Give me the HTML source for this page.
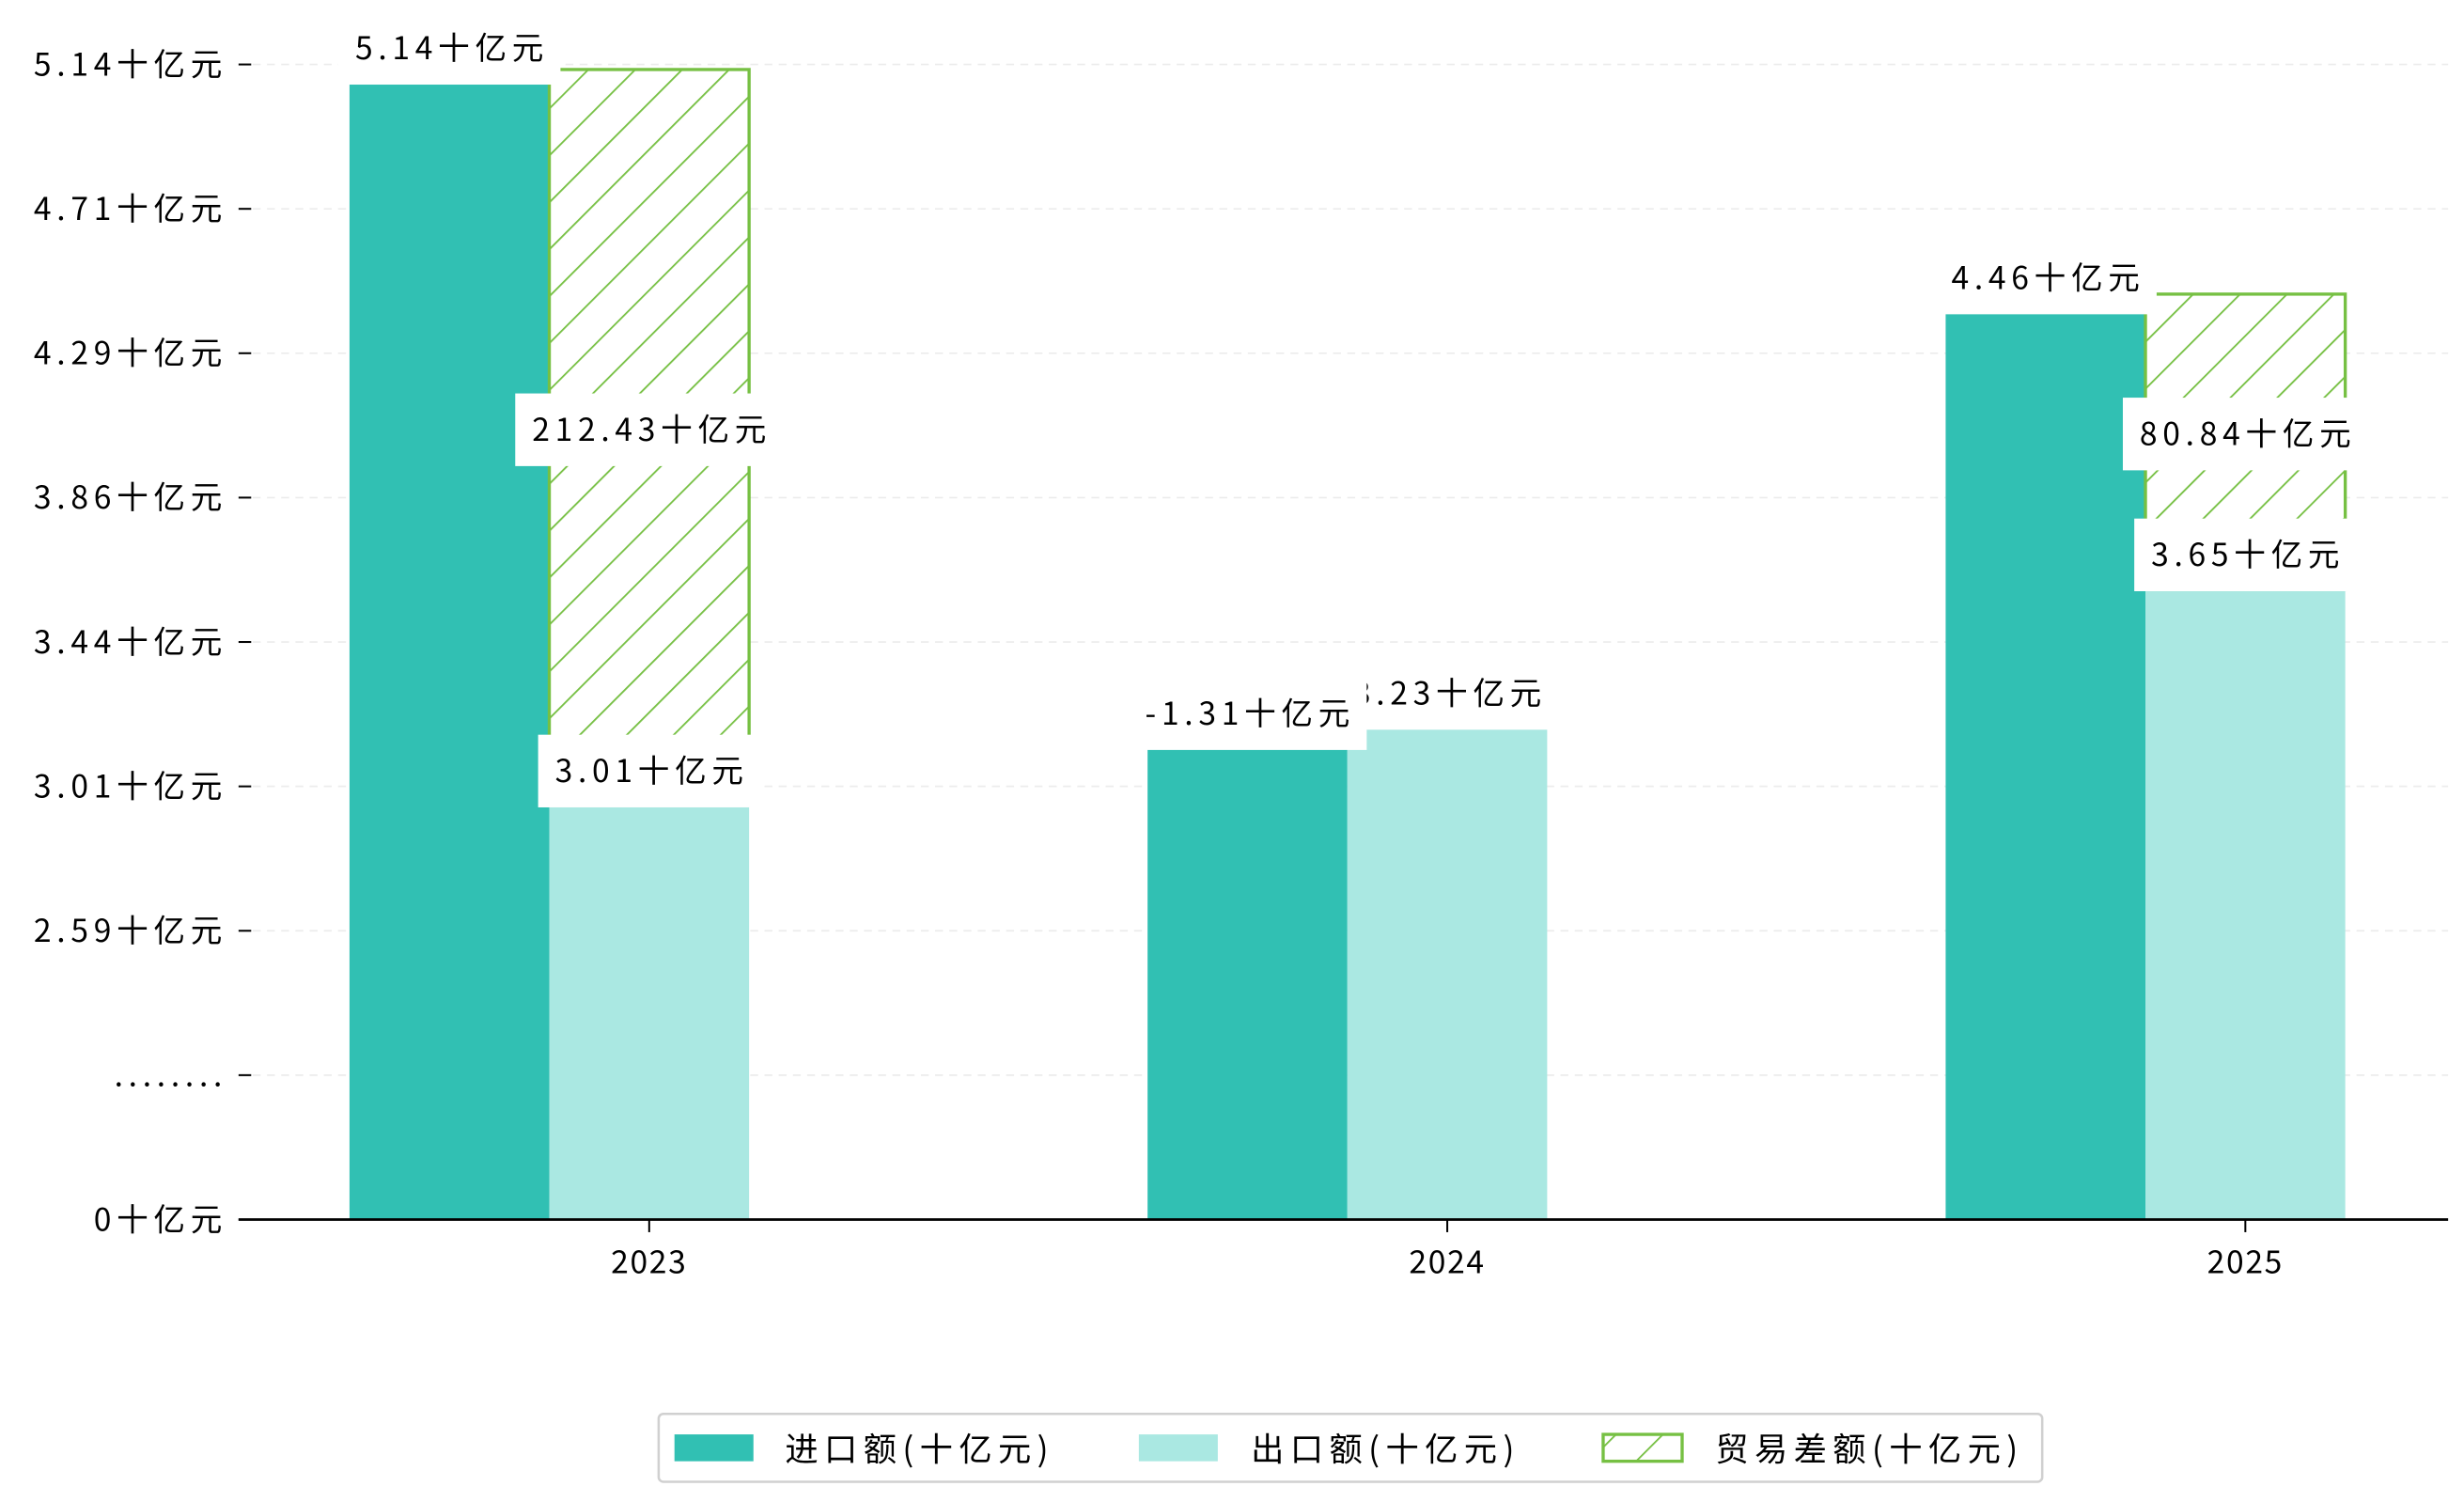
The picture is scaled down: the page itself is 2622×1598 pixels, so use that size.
<!DOCTYPE html>
<html><head><meta charset="utf-8"><style>
html,body{margin:0;padding:0;background:#fff;}
svg{display:block;font-family:"WenQuanYi Zen Hei","WenQuanYi Zen Hei Sharp","Noto Sans CJK SC",sans-serif;}
.ls{letter-spacing:3.4px;}
</style></head><body>
<svg id="chart" width="2622" height="1598" viewBox="0 0 1560 950.8" xmlns="http://www.w3.org/2000/svg">
<defs>
<pattern id="hatch" patternUnits="userSpaceOnUse" width="21" height="21" patternTransform="rotate(45)">
<rect width="21" height="21" fill="#fff"/>
<line x1="0" y1="0" x2="0" y2="21" stroke="#76c043" stroke-width="2.2"/>
</pattern>
</defs>
<g id="grid"></g>
<g id="bars"></g>
<g id="labels"></g>
<g id="axes"></g>
<g>
<rect x="417" y="895" width="876" height="43" rx="3" fill="#fff" stroke="#d0d0d0" stroke-width="1.5"/>
<rect x="427" y="908" width="50" height="17" fill="#31c0b3"/>
<text class="ls" style="letter-spacing:3.8px" x="497" y="925" font-size="21">进口额(十亿元)</text>
<rect x="721" y="908" width="50" height="17" fill="#aae8e2"/>
<text class="ls" style="letter-spacing:3.8px" x="792" y="925" font-size="21">出口额(十亿元)</text>
<rect x="1015" y="908" width="50" height="17" fill="url(#hatch)" stroke="#76c043" stroke-width="2"/>
<text class="ls" style="letter-spacing:3.8px" x="1086" y="925" font-size="21">贸易差额(十亿元)</text>
</g>
</svg>
<script>
const categories = ["2023","2024","2025"];
const importValues = [5.10, 3.13, 4.42];
const exportValues = [2.96, 3.19, 3.60];
const balanceTop = [5.14, null, 4.475];
const importLabels = ["5.14十亿元","-1.31十亿元","4.46十亿元"];
const exportLabels = ["3.01十亿元","3.23十亿元","3.65十亿元"];
const balanceLabels = ["212.43十亿元", null, "80.84十亿元"];
const tickValues = [0, 1.295, 2.59, 3.0175, 3.445, 3.8725, 4.30, 4.7275, 5.155];
const tickLabels = ["0十亿元","........","2.59十亿元","3.01十亿元","3.44十亿元","3.86十亿元","4.29十亿元","4.71十亿元","5.14十亿元"];

const NS="http://www.w3.org/2000/svg";
const y0=772, step=91.4;
function yScale(v){
  if(v<=2.59) return y0 - (v/2.59)*2*step;
  return y0 - 2*step - (v-2.59)/0.4275*step;
}
const bw=126.5;
function xScale(i){ return 411 + i*505.3; }
function mk(tag,attrs,parent){const e=document.createElementNS(NS,tag);for(const k in attrs)e.setAttribute(k,attrs[k]);parent.appendChild(e);return e;}
const grid=document.getElementById('grid'),bars=document.getElementById('bars'),labels=document.getElementById('labels'),axes=document.getElementById('axes');

tickValues.forEach((v,i)=>{
  const y=yScale(v);
  if(i>0){const g=mk('line',{x1:160,x2:1550,y1:y,y2:y,stroke:'#ececec','stroke-width':1,'stroke-dasharray':'5,4'},grid);
  
  }
  const t=mk('line',{x1:151,x2:159,y1:y,y2:y,stroke:'#000','stroke-width':1.2},axes);
  
  
  const tx=mk('text',{x:144,y:y+7,'font-size':20,'text-anchor':'end','class':'ls'},axes);
  tx.textContent=tickLabels[i];
  
  
});

categories.forEach((c,i)=>{
  const cx=xScale(i);
  const mid=cx-bw/2;
  const yi=yScale(importValues[i]), ye=yScale(exportValues[i]);
  const r1=mk('rect',{x:mid-bw,y:yi,width:bw,height:y0-yi,fill:'#31c0b3'},bars);
  
  
  const r2=mk('rect',{x:mid,y:ye,width:bw,height:y0-ye,fill:'#aae8e2'},bars);
  
  
  if(balanceTop[i]!=null){
    const yb=yScale(balanceTop[i]);
    const r3=mk('rect',{x:mid,y:yb,width:bw,height:ye-yb,fill:'url(#hatch)',stroke:'#76c043','stroke-width':2},bars);
    
    
  }
  const tk=mk('line',{x1:cx,x2:cx,y1:y0,y2:y0+8,stroke:'#000','stroke-width':1.2},axes);
  
  
  const xl=mk('text',{x:cx,y:y0+34,'font-size':20,'text-anchor':'middle','letter-spacing':'1'},axes);
  xl.textContent=c;
  
  
});

function boxLabel(text,cx,cy,name){
  const b=mk('rect',{x:cx,y:cy-23,width:10,height:46,fill:'#fff'},labels);
  
  
  const t=mk('text',{x:cx+1.7,y:cy+7,'font-size':20,'text-anchor':'middle','class':'ls'},labels);
  t.textContent=text;
  
  
  let w=text.length*17;
  try{ const l=t.getComputedTextLength(); if(l>0) w=l+18; }catch(e){}
  b.setAttribute('x',cx-w/2); b.setAttribute('width',w);
}
categories.forEach((c,i)=>{
  const mid=xScale(i)-bw/2;
  const ye=yScale(exportValues[i]);
  if(balanceLabels[i]!=null){
    const yb=yScale(balanceTop[i]);
    boxLabel(balanceLabels[i],mid+bw/2,(yb+ye)/2-5,'balance-label-'+c);
  }
  boxLabel(exportLabels[i],mid+bw/2,ye-22,'export-label-'+c);
  boxLabel(importLabels[i],mid-bw/2,yScale(importValues[i])-22,'import-label-'+c);
});
const ax=mk('line',{x1:151,x2:1550,y1:y0,y2:y0,stroke:'#000','stroke-width':1.6},axes);


</script>
</body></html>
